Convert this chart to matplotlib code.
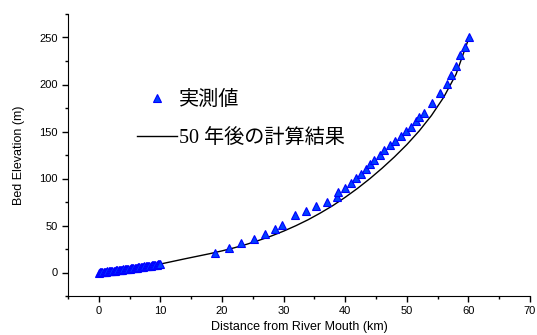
import numpy as np
import matplotlib.pyplot as plt
from matplotlib.ticker import MultipleLocator

# observed bed elevation (triangles)
obs_km = [0.0, 0.2, 0.4, 0.6, 0.8, 1.0, 1.2, 1.4, 1.6, 1.8, 2.0, 2.2, 2.4, 2.6, 2.8,
          3.0, 3.2, 3.4, 3.6, 3.8, 4.0, 4.2, 4.4, 4.6, 4.8, 5.0, 5.2, 5.4, 5.6, 5.8,
          6.0, 6.2, 6.4, 6.6, 6.8, 7.0, 7.2, 7.4, 7.6, 7.8, 8.0, 8.2, 8.4, 8.6, 8.8,
          9.0, 9.2, 9.4, 9.6, 9.8, 10.0,
          18.8, 21.2, 23.1, 25.2, 26.9, 28.6, 29.7, 31.9, 33.7, 35.3, 37.0, 38.6, 38.9,
          40.0, 40.9, 41.8, 42.6, 43.4, 44.1, 44.7, 45.6, 46.3, 47.2, 48.1, 49.0, 49.8,
          50.7, 51.5, 52.0, 52.8, 54.1, 55.4, 56.5, 57.2, 58.0, 58.6, 59.5, 60.1]
obs_elev = [0.0, 0.2, 0.3, 0.5, 0.6, 0.8, 1.0, 1.1, 1.3, 1.4, 1.6, 1.8, 1.9, 2.1, 2.3,
            2.4, 2.6, 2.8, 2.9, 3.1, 3.3, 3.4, 3.6, 3.8, 3.9, 4.1, 4.3, 4.5, 4.7, 4.8,
            5.0, 5.2, 5.4, 5.6, 5.8, 6.0, 6.2, 6.4, 6.6, 6.8, 7.0, 7.2, 7.4, 7.6, 7.8,
            8.0, 8.2, 8.4, 8.6, 8.8, 9.0,
            21.0, 25.7, 31.0, 35.6, 40.5, 45.8, 50.3, 60.8, 65.8, 70.6, 75.4, 80.4, 85.5,
            90.0, 95.4, 100.3, 105.0, 110.3, 115.0, 120.0, 125.2, 130.5, 135.8, 140.4, 145.7, 150.3,
            155.3, 161.0, 165.2, 170.2, 180.5, 190.8, 200.7, 210.6, 220.2, 230.9, 240.4, 250.5]

# computed bed after 50 years (line)
calc_km = [0, 2, 4, 6, 8, 10, 12, 14, 16, 18, 20, 22, 24, 26, 28, 30, 32, 34, 36, 38,
           40, 42, 44, 46, 48, 50, 52, 54, 56, 58, 60]
calc_elev = [0, 1.6, 3.2, 4.8, 6.7, 9.0, 11.8, 14.6, 17.3, 20.0, 23.0, 26.3, 30.0, 34.2,
             38.8, 44.0, 49.8, 56.2, 63.4, 71.2, 80.0, 89.5, 99.8, 111.0, 123.0, 136.0,
             150.5, 167.0, 186.5, 211.0, 248.0]

plt.rcParams['font.family'] = ['Liberation Sans', 'DejaVu Sans']

fig = plt.figure(figsize=(5.37, 3.35), dpi=100)
ax = fig.add_axes([68 / 537, 39 / 335, 462 / 537, 282 / 335])

ax.plot(calc_km, calc_elev, '-', color='black', lw=1.0,
        label='50 年後の計算結果')
ax.plot(obs_km, obs_elev, '^', ms=6, mfc='#0040ff', mec='#0000ff', mew=0.8,
        linestyle='none', label='実測値')

ax.set_xlim(-5, 70)
ax.set_ylim(-25, 275)
ax.xaxis.set_major_locator(MultipleLocator(10))
ax.xaxis.set_minor_locator(MultipleLocator(5))
ax.yaxis.set_major_locator(MultipleLocator(50))
ax.yaxis.set_minor_locator(MultipleLocator(25))
ax.tick_params(which='major', direction='out', length=4, width=1, labelsize=8)
ax.tick_params(which='minor', direction='out', length=2.5, width=1)
ax.spines['top'].set_visible(False)
ax.spines['right'].set_visible(False)
ax.set_xticks(range(0, 71, 10))
ax.set_yticks(range(0, 251, 50))
ax.set_xlabel('Distance from River Mouth (km)', fontsize=9, labelpad=3)
ax.set_ylabel('Bed Elevation (m)', fontsize=9, labelpad=10)

handles, labels = ax.get_legend_handles_labels()
leg = ax.legend(handles[::-1], labels[::-1], loc='upper left',
                bbox_to_anchor=(119 / 537, 1 - 73 / 335), bbox_transform=fig.transFigure,
                frameon=False, handlelength=2.0, handletextpad=0.1, labelspacing=0.95,
                prop={'family': ['Liberation Serif', 'Noto Sans CJK JP'], 'size': 14.5})

fig.savefig('out.png', dpi=100)
